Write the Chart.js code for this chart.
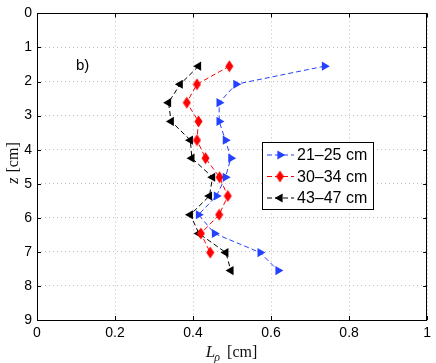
<!DOCTYPE html>
<html>
<head>
<meta charset="utf-8">
<script src="https://cdn.jsdelivr.net/npm/chart.js@4"></script>
<style>
  body { margin: 0; background: #fff; }
  canvas { display: block; }
</style>
</head>
<body>
<canvas id="lrhoChart" width="436" height="363"></canvas>
<script>
// depth positions (cm) and length scale L_rho (cm) per height band
const zValues = [1.55, 2.08, 2.62, 3.17, 3.72, 4.25, 4.81, 5.36, 5.91, 6.46, 7.02, 7.55];
const lBlue = [0.737, 0.51, 0.467, 0.467, 0.483, 0.497, 0.483, 0.46, 0.414, 0.455, 0.572, 0.618];
const lRed = [0.493, 0.41, 0.384, 0.414, 0.41, 0.432, 0.468, 0.489, 0.467, 0.42, 0.444];
const lBlack = [0.414, 0.367, 0.337, 0.344, 0.393, 0.397, 0.45, 0.442, 0.393, 0.415, 0.484, 0.497];
const seriesLabels = ["21\u201325 cm", "30\u201334 cm", "43\u201347 cm"];
const xTicks = [0, 0.2, 0.4, 0.6, 0.8, 1];
const yTicks = [0, 1, 2, 3, 4, 5, 6, 7, 8, 9];

const blue = 'rgb(35, 65, 255)';
const red = 'rgb(255, 0, 0)';
const black = 'rgb(0, 0, 0)';

// tall diamond marker like MATLAB's 'd'
function makeDiamond(color) {
    const c = document.createElement('canvas');
    c.width = 9;
    c.height = 13;
    const g = c.getContext('2d');
    g.fillStyle = color;
    g.beginPath();
    g.moveTo(4.5, 0.5);
    g.lineTo(8.5, 6.5);
    g.lineTo(4.5, 12.5);
    g.lineTo(0.5, 6.5);
    g.closePath();
    g.fill();
    return c;
}
const diamondRed = makeDiamond(red);

function toPoints(xs) {
    return xs.map((v, i) => ({ x: v, y: zValues[i] }));
}

const serif = '"Liberation Serif", "DejaVu Serif", serif';

const framePlugin = {
    id: 'frame',
    afterDatasetsDraw(chart) {
        const ctx = chart.ctx;
        const a = chart.chartArea;
        const xs = chart.scales.x;
        const ys = chart.scales.y;
        ctx.save();
        ctx.strokeStyle = '#000';
        ctx.lineWidth = 1;
        ctx.beginPath();
        ctx.rect(Math.round(a.left) + 0.5, Math.round(a.top) + 0.5,
                 Math.round(a.right - a.left) - 1, Math.round(a.bottom - a.top));
        ctx.stroke();
        // inward tick marks on all four sides
        const len = 4;
        ctx.beginPath();
        xTicks.forEach(t => {
            const px = Math.round(xs.getPixelForValue(t)) + 0.5;
            ctx.moveTo(px, a.bottom);
            ctx.lineTo(px, a.bottom - len);
            ctx.moveTo(px, a.top);
            ctx.lineTo(px, a.top + len);
        });
        yTicks.forEach(t => {
            const py = Math.round(ys.getPixelForValue(t)) + 0.5;
            ctx.moveTo(a.left, py);
            ctx.lineTo(a.left + len, py);
            ctx.moveTo(a.right, py);
            ctx.lineTo(a.right - len, py);
        });
        ctx.stroke();

        // panel tag
        ctx.fillStyle = '#000';
        ctx.font = '15px "Liberation Sans", Arial, sans-serif';
        ctx.textBaseline = 'alphabetic';
        ctx.fillText('b)', xs.getPixelForValue(0.1), ys.getPixelForValue(1.66));

        // axis titles (LaTeX style)
        ctx.fillStyle = '#111';
        const cx = (a.left + a.right) / 2;
        const by = 357;
        ctx.font = 'italic 17px ' + serif;
        const wL = ctx.measureText('L').width;
        ctx.font = 'italic 12px ' + serif;
        const wR = ctx.measureText('\u03C1').width;
        ctx.font = '16px ' + serif;
        const wC = ctx.measureText(' [cm]').width;
        const x0 = cx - (wL + wR + 3 + wC) / 2;
        ctx.textAlign = 'left';
        ctx.font = 'italic 17px ' + serif;
        ctx.fillText('L', x0, by);
        ctx.font = 'italic 12px ' + serif;
        ctx.fillText('\u03C1', x0 + wL - 1, by + 4);
        ctx.font = '16px ' + serif;
        ctx.fillText(' [cm]', x0 + wL + wR + 2, by);

        ctx.translate(18, (a.top + a.bottom) / 2 - 3);
        ctx.rotate(-Math.PI / 2);
        ctx.font = 'italic 17px ' + serif;
        const wz = ctx.measureText('z').width;
        ctx.font = '16px ' + serif;
        const wcm = ctx.measureText(' [cm]').width;
        const y0 = -(wz + wcm) / 2;
        ctx.font = 'italic 17px ' + serif;
        ctx.fillText('z', y0, 0);
        ctx.font = '16px ' + serif;
        ctx.fillText(' [cm]', y0 + wz + 1, 0);
        ctx.restore();
    },
    afterDraw(chart) {
        // legend box inside the axes
        const ctx = chart.ctx;
        const left = 262, top = 142, w = 111, h = 67;
        ctx.save();
        ctx.fillStyle = '#fff';
        ctx.fillRect(left, top, w, h);
        ctx.strokeStyle = '#000';
        ctx.lineWidth = 1;
        ctx.strokeRect(left + 0.5, top + 0.5, w, h);
        chart.data.datasets.forEach((ds, i) => {
            const y = top + 13 + i * 21.5;
            ctx.strokeStyle = ds.borderColor;
            ctx.setLineDash(ds.borderDash);
            ctx.lineWidth = 1;
            ctx.beginPath();
            ctx.moveTo(267, y);
            ctx.lineTo(294, y);
            ctx.stroke();
            ctx.setLineDash([]);
            if (ds.pointStyle === 'triangle') {
                const r = ds.pointRadius;
                const rad = ds.pointRotation * Math.PI / 180;
                ctx.fillStyle = ds.backgroundColor;
                ctx.beginPath();
                for (let k = 0; k < 3; k++) {
                    const ang = rad + k * 2 * Math.PI / 3;
                    const px = 280 + Math.sin(ang) * r;
                    const py = y - Math.cos(ang) * r;
                    if (k === 0) ctx.moveTo(px, py); else ctx.lineTo(px, py);
                }
                ctx.closePath();
                ctx.fill();
            } else {
                ctx.drawImage(ds.pointStyle, 280 - 4.5, y - 6.5);
            }
            ctx.fillStyle = '#000';
            ctx.font = '16px "Liberation Sans", Arial, sans-serif';
            ctx.textBaseline = 'middle';
            ctx.fillText(ds.label, 297, y + 1);
        });
        ctx.restore();
    }
};

new Chart(document.getElementById('lrhoChart').getContext('2d'), {
    type: 'scatter',
    data: {
        datasets: [{
            label: seriesLabels[0],
            data: toPoints(lBlue),
            borderColor: blue,
            backgroundColor: blue,
            borderWidth: 1,
            borderDash: [5, 3],
            showLine: true,
            pointStyle: 'triangle',
            pointRotation: 90,
            pointRadius: 5.3,
            pointBorderWidth: 0
        }, {
            label: seriesLabels[1],
            data: toPoints(lRed),
            borderColor: red,
            backgroundColor: red,
            borderWidth: 1,
            borderDash: [5, 3],
            showLine: true,
            pointStyle: diamondRed,
            pointRadius: 5,
            pointBorderWidth: 0
        }, {
            label: seriesLabels[2],
            data: toPoints(lBlack),
            borderColor: black,
            backgroundColor: black,
            borderWidth: 1,
            borderDash: [5, 3],
            showLine: true,
            pointStyle: 'triangle',
            pointRotation: -90,
            pointRadius: 5.3,
            pointBorderWidth: 0
        }]
    },
    options: {
        responsive: false,
        animation: false,
        layout: { padding: { top: 12, right: 8, left: 0, bottom: 0 } },
        plugins: {
            legend: { display: false },
            tooltip: { enabled: false }
        },
        scales: {
            x: {
                type: 'linear',
                min: 0,
                max: 1,
                afterFit: s => { s.height = 43; },
                afterBuildTicks: s => { s.ticks = xTicks.map(v => ({ value: v })); },
                grid: { color: '#bdbdbd', lineWidth: 1, drawTicks: false },
                border: { display: false, dash: [1, 3] },
                ticks: {
                    padding: 5,
                    color: '#000',
                    font: { family: '"Liberation Sans", Arial, sans-serif', size: 14 },
                    callback: v => String(+v.toFixed(1)),
                    maxRotation: 0
                }
            },
            y: {
                type: 'linear',
                reverse: true,
                min: 0,
                max: 9,
                afterFit: s => { s.width = 37; },
                afterBuildTicks: s => { s.ticks = yTicks.map(v => ({ value: v })); },
                grid: { color: '#bdbdbd', lineWidth: 1, drawTicks: false },
                border: { display: false, dash: [1, 3] },
                ticks: {
                    padding: 5,
                    color: '#000',
                    font: { family: '"Liberation Sans", Arial, sans-serif', size: 14 },
                    callback: v => String(v)
                }
            }
        }
    },
    plugins: [framePlugin]
});
</script>
</body>
</html>
